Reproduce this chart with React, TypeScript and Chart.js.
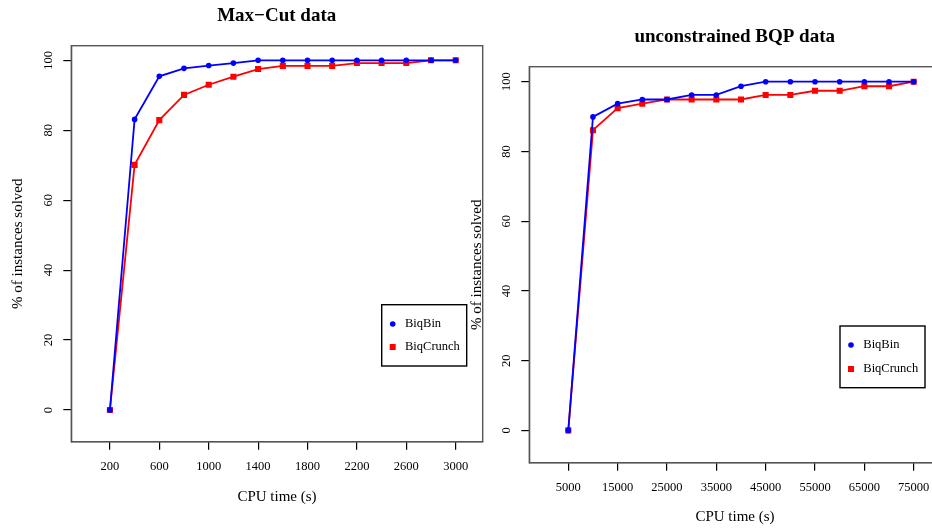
import React, { useEffect, useRef } from "react";
import { Chart, registerables } from "chart.js";

Chart.register(...registerables);

// ---------- data ----------
const seriesNames = ["BiqBin", "BiqCrunch"];
const yTicks = [0, 20, 40, 60, 80, 100];

const xMaxCut = [200, 400, 600, 800, 1000, 1200, 1400, 1600, 1800, 2000, 2200, 2400, 2600, 2800, 3000];
const biqBinMaxCut = [0, 83.1, 95.4, 97.7, 98.5, 99.2, 100, 100, 100, 100, 100, 100, 100, 100, 100];
const biqCrunchMaxCut = [0, 70.1, 82.9, 90.1, 93.0, 95.3, 97.5, 98.4, 98.4, 98.4, 99.2, 99.2, 99.2, 100, 100];
const xTicksMaxCut = [200, 600, 1000, 1400, 1800, 2200, 2600, 3000];

const xBqp = [5000, 10000, 15000, 20000, 25000, 30000, 35000, 40000, 45000, 50000, 55000, 60000, 65000, 70000, 75000];
const biqBinBqp = [0, 89.9, 93.7, 94.9, 94.9, 96.2, 96.2, 98.7, 100, 100, 100, 100, 100, 100, 100];
const biqCrunchBqp = [0, 86.1, 92.4, 93.7, 94.9, 94.9, 94.9, 94.9, 96.2, 96.2, 97.4, 97.4, 98.7, 98.7, 100];
const xTicksBqp = [5000, 15000, 25000, 35000, 45000, 55000, 65000, 75000];

const FONT = "'Liberation Serif', 'Times New Roman', serif";
const BLUE = "#0000ff";
const RED = "#ff0000";

type Panel = {
  title: string;
  x: number[];
  bin: number[];
  crunch: number[];
  xTicks: number[];
  xMin: number;
  xMax: number;
  yMin: number;
  yMax: number;
  canvasW: number;
  yAxisW: number;
  xAxisH: number;
  pad: { top: number; right: number; bottom: number };
  yTitlePad: number;
  titlePos: [number, number];
  legendBox: [number, number, number, number];
  legendMarkX: number;
  legendTextX: number;
  legendRows: [number, number];
};

const boxPlugin = {
  id: "rbox",
  beforeDatasetsDraw(chart: any) {
    const { ctx, chartArea: a } = chart;
    ctx.save();
    ctx.strokeStyle = "#555";
    ctx.lineWidth = 1.4;
    ctx.strokeRect(a.left, a.top, a.right - a.left, a.bottom - a.top);
    ctx.restore();
  },
};

function makeDecorPlugin(p: Panel) {
  return {
    id: "rdecor",
    afterDraw(chart: any) {
      const { ctx } = chart;
      ctx.save();
      // main title
      ctx.fillStyle = "#000";
      ctx.font = `bold 19px ${FONT}`;
      ctx.textAlign = "center";
      ctx.textBaseline = "middle";
      ctx.fillText(p.title, p.titlePos[0], p.titlePos[1]);
      // legend
      const [lx, ly, lw, lh] = p.legendBox;
      ctx.fillStyle = "#fff";
      ctx.fillRect(lx, ly, lw, lh);
      ctx.strokeStyle = "#000";
      ctx.lineWidth = 1.4;
      ctx.strokeRect(lx, ly, lw, lh);
      const ds = chart.data.datasets;
      ds.forEach((d: any, i: number) => {
        const yy = p.legendRows[i];
        ctx.fillStyle = d.backgroundColor;
        if (d.pointStyle === "rect") {
          ctx.fillRect(p.legendMarkX - 3, yy - 3, 6, 6);
        } else {
          ctx.beginPath();
          ctx.arc(p.legendMarkX, yy, 2.8, 0, Math.PI * 2);
          ctx.fill();
        }
        ctx.fillStyle = "#000";
        ctx.font = `12.5px ${FONT}`;
        ctx.textAlign = "left";
        ctx.textBaseline = "middle";
        ctx.fillText(d.label, p.legendTextX, yy);
      });
      ctx.restore();
    },
  };
}

function buildConfig(p: Panel): any {
  const tickFont = { family: FONT, size: 12.5 };
  return {
    type: "line",
    data: {
      datasets: [
        {
          label: seriesNames[0],
          data: p.x.map((x, i) => ({ x, y: p.bin[i] })),
          borderColor: BLUE,
          backgroundColor: BLUE,
          pointStyle: "circle",
          pointRadius: 2.8,
          pointBorderWidth: 0,
          borderWidth: 1.8,
          tension: 0,
        },
        {
          label: seriesNames[1],
          data: p.x.map((x, i) => ({ x, y: p.crunch[i] })),
          borderColor: RED,
          backgroundColor: RED,
          pointStyle: "rect",
          pointRadius: 4.3,
          pointBorderWidth: 0,
          borderWidth: 1.8,
          tension: 0,
        },
      ],
    },
    options: {
      responsive: false,
      animation: false,
      events: [],
      layout: { padding: { left: 0, top: p.pad.top, right: p.pad.right, bottom: p.pad.bottom } },
      plugins: { legend: { display: false }, title: { display: false }, tooltip: { enabled: false } },
      scales: {
        x: {
          type: "linear",
          min: p.xMin,
          max: p.xMax,
          afterBuildTicks: (s: any) => {
            s.ticks = p.xTicks.map((v) => ({ value: v }));
          },
          afterFit: (s: any) => {
            s.height = p.xAxisH;
          },
          ticks: {
            autoSkip: false,
            minRotation: 0,
            maxRotation: 0,
            padding: 10,
            color: "#000",
            font: tickFont,
            callback: (v: any) => String(v),
          },
          grid: { display: true, drawOnChartArea: false, drawTicks: true, tickLength: 8, color: "#000", lineWidth: 1.2 },
          border: { display: true, color: "#000", width: 1.2 },
          title: { display: true, text: "CPU time (s)", color: "#000", font: { family: FONT, size: 15 }, padding: 0 },
        },
        y: {
          type: "linear",
          min: p.yMin,
          max: p.yMax,
          afterBuildTicks: (s: any) => {
            s.ticks = yTicks.map((v) => ({ value: v }));
          },
          afterFit: (s: any) => {
            s.width = p.yAxisW;
          },
          ticks: {
            autoSkip: false,
            minRotation: 90,
            maxRotation: 90,
            crossAlign: "center",
            padding: 5,
            color: "#000",
            font: tickFont,
            callback: (v: any) => String(v),
          },
          grid: { display: true, drawOnChartArea: false, drawTicks: true, tickLength: 8, color: "#000", lineWidth: 1.2 },
          border: { display: true, color: "#000", width: 1.2 },
          title: {
            display: true,
            text: "% of instances solved",
            color: "#000",
            font: { family: FONT, size: 15 },
            padding: { top: p.yTitlePad, bottom: 0 },
          },
        },
      },
    },
    plugins: [boxPlugin, makeDecorPlugin(p)],
  };
}

const panelA: Panel = {
  title: "Max\u2212Cut data",
  x: xMaxCut,
  bin: biqBinMaxCut,
  crunch: biqCrunchMaxCut,
  xTicks: xTicksMaxCut,
  xMin: -112.6,
  xMax: 3218.6,
  yMin: -9.06,
  yMax: 104.17,
  canvasW: 490,
  yAxisW: 71.3,
  xAxisH: 64,
  pad: { top: 45.7, right: 7.3, bottom: 23.3 },
  yTitlePad: 9,
  titlePos: [276.7, 16],
  legendBox: [381.7, 304.7, 85, 61.3],
  legendMarkX: 392.7,
  legendTextX: 405,
  legendRows: [324, 347],
};

const OFFB = 450;
const panelB: Panel = {
  title: "unconstrained BQP data",
  x: xBqp,
  bin: biqBinBqp,
  crunch: biqCrunchBqp,
  xTicks: xTicksBqp,
  xMin: -2903,
  xMax: 80471,
  yMin: -9.26,
  yMax: 104.3,
  canvasW: 510,
  yAxisW: 529.3 - OFFB,
  xAxisH: 63,
  pad: { top: 66.7, right: 510 - (940.7 - OFFB), bottom: 3.3 },
  yTitlePad: 476.7 - OFFB - 9,
  titlePos: [734.7 - OFFB, 37],
  legendBox: [840 - OFFB, 326, 85, 61.7],
  legendMarkX: 851 - OFFB,
  legendTextX: 863.3 - OFFB,
  legendRows: [345, 369],
};

function PanelChart({ panel, left }: { panel: Panel; left: number }) {
  const ref = useRef<HTMLCanvasElement | null>(null);
  useEffect(() => {
    if (!ref.current) return;
    const chart = new Chart(ref.current, buildConfig(panel));
    return () => chart.destroy();
  }, [panel]);
  return (
    <canvas
      ref={ref}
      width={panel.canvasW}
      height={529}
      style={{ position: "absolute", left, top: 0, width: panel.canvasW, height: 529, display: "block" }}
    />
  );
}

export default function App() {
  return (
    <div
      style={{
        position: "absolute",
        left: 0,
        top: 0,
        width: 932,
        height: 529,
        overflow: "hidden",
        background: "#fff",
      }}
    >
      <PanelChart panel={panelA} left={0} />
      <PanelChart panel={panelB} left={OFFB} />
    </div>
  );
}
